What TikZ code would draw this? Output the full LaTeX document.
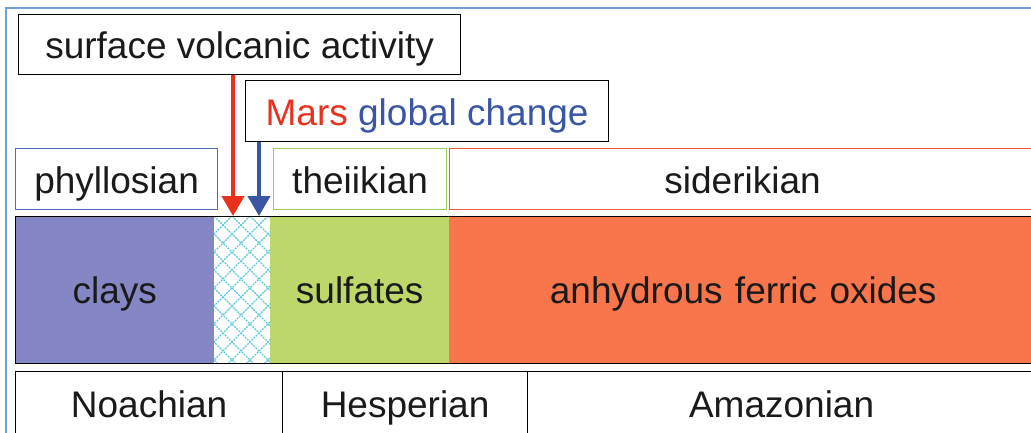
\documentclass[tikz,border=0pt]{standalone}
\usepackage{fontspec}
\setmainfont{Liberation Sans}
\usetikzlibrary{arrows.meta}
\definecolor{frameblue}{HTML}{6FA3D8}
\definecolor{claycol}{HTML}{8487C4}
\definecolor{sulfcol}{HTML}{BDD76B}
\definecolor{oxcol}{HTML}{F9754B}
\definecolor{phylcol}{HTML}{4E6BB5}
\definecolor{theicol}{HTML}{9BCB5A}
\definecolor{sidecol}{HTML}{F05A4A}
\definecolor{marsred}{HTML}{E8321E}
\definecolor{globblue}{HTML}{3A55A4}
\definecolor{hatchcol}{HTML}{5BC8DC}
\definecolor{txt}{HTML}{1A1A1A}
\tikzset{
  lbl/.style={font=\fontsize{37}{44}\selectfont, text=txt, text height=33pt, text depth=4.5pt},
  box/.style={rectangle, draw, line width=1.2pt, anchor=north west, inner sep=0pt, lbl},
  region/.style={rectangle, anchor=north west, inner sep=0pt, draw=none, lbl},
  arr/.style={line width=4pt, -{Triangle[width=22pt,length=20pt]}},
}
\begin{document}
\begin{tikzpicture}[x=1pt,y=-1pt]
\useasboundingbox (0,0) rectangle (1031,432);
\fill[white] (0,0) rectangle (1031,432);
% outer frame
\draw[frameblue, line width=1.5pt] (6,440) -- (6,8) -- (1040,8);
% top boxes
\node[box, minimum width=442pt, minimum height=60pt] (sva) at (18,14) {surface volcanic activity};
\node[box, minimum width=363pt, minimum height=61pt] (mgc) at (245,80) {\textcolor{marsred}{Mars} \textcolor{globblue}{global change}};
% epoch labels
\node[box, draw=phylcol, minimum width=202pt, minimum height=61pt] (phyl) at (15,148) {phyllosian};
\node[box, draw=theicol, minimum width=173pt, minimum height=61pt] (thei) at (273,148) {theiikian};
\node[box, draw=sidecol, minimum width=600pt, minimum height=61pt, text width=580pt, align=center] (side) at (449,148) {\hspace*{-14pt}siderikian};
% bar regions
\node[region, fill=claycol, minimum width=199pt, minimum height=147pt] (clays) at (15,216) {clays};
\node[region, fill=white, minimum width=56pt, minimum height=147pt] (hatch) at (214,216) {};
\node[region, fill=sulfcol, minimum width=179pt, minimum height=147pt] (sulf) at (270,216) {sulfates};
\node[region, fill=oxcol, minimum width=600pt, minimum height=147pt, text width=580pt, align=center] (ox) at (449,216) {\hspace*{-12pt}anhydrous ferric oxides};
\begin{scope}
  \clip (hatch.north west) rectangle (hatch.south east);
  \foreach \k in {-10,...,20} {
    \draw[hatchcol, line width=1.1pt, dash pattern=on 2pt off 1pt] (196+\k*18,216) -- ++(160,160);
    \draw[hatchcol, line width=1.1pt, dash pattern=on 2pt off 1pt] (196+\k*18,216) -- ++(-160,160);
  }
\end{scope}
\node[box, minimum width=1030pt, minimum height=147pt] (bar) at (15,216) {};
% periods
\node[box, minimum width=267pt, minimum height=64pt] (noa) at (15,371) {Noachian};
\node[box, minimum width=245pt, minimum height=64pt] (hes) at (282,371) {Hesperian};
\node[box, minimum width=520pt, minimum height=64pt, text width=500pt, align=center] (ama) at (527,371) {\hspace*{-12pt}Amazonian};
% arrows
\coordinate (rx) at (233,0);
\coordinate (bx) at (259,0);
\draw[arr, marsred] (rx |- sva.south) -- (rx |- bar.north);
\draw[arr, globblue] (bx |- mgc.south) -- (bx |- bar.north);
\end{tikzpicture}
\end{document}
